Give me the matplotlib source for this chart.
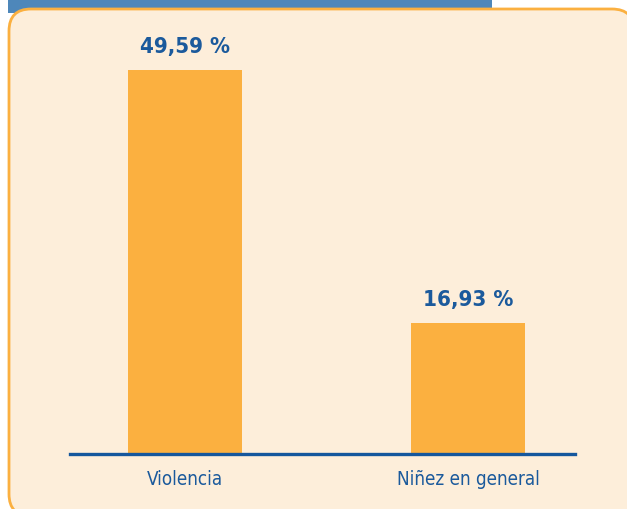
import matplotlib
matplotlib.use('Agg')
import matplotlib.pyplot as plt
from matplotlib.patches import FancyBboxPatch, Rectangle

categories = ['Violencia', 'Niñez en general']
values = [49.59, 16.93]
value_labels = ['49,59 %', '16,93 %']

W, H = 627, 510
cream = '#FDEEDA'
orange = '#FBB040'
blue_txt = '#1B5A9C'
blue_line = '#15579D'
header_blue = '#4E87BA'

plt.rcParams['font.family'] = ['DejaVu Sans']
plt.rcParams['font.stretch'] = 'condensed'

fig = plt.figure(figsize=(W / 100, H / 100), dpi=100)
fig.patch.set_facecolor('white')
inch = fig.dpi_scale_trans  # 1 unit = 100 px

# header strip, cut off at the top
fig.patches.append(Rectangle((0.08, (H - 14) / 100), (492 - 8) / 100, 0.14,
                             transform=inch, facecolor=header_blue,
                             edgecolor='none', zorder=-2))
# rounded cream panel (runs off right and bottom edges)
fig.patches.append(FancyBboxPatch((0.09, -0.07), (634 - 9) / 100, (H - 10 + 7) / 100,
                                  boxstyle='round,pad=0,rounding_size=0.22',
                                  transform=inch, facecolor=cream,
                                  edgecolor=orange, linewidth=2, zorder=-1))

# axes in pixel placement
left, right, bottom, top = 70, 575, 455, 20
ax = fig.add_axes([left / W, (H - bottom) / H, (right - left) / W, (bottom - top) / H])
ax.set_zorder(5)
ax.patch.set_alpha(0)

px = 283.0
ax.set_xlim((left - 185) / px, (right - 185) / px)
ax.set_ylim(0, (bottom - top) / 7.74)

xs = range(len(categories))
ax.bar(xs, values, width=114 / px, color=orange, zorder=2)
for x, v, lab in zip(xs, values, value_labels):
    ax.annotate(lab, (x, v), xytext=(0, 10), textcoords='offset points',
                ha='center', va='bottom', color=blue_txt, fontsize=16,
                fontweight='bold')

ax.axhline(0, color=blue_line, linewidth=2.4, zorder=3, clip_on=False)
for s in ax.spines.values():
    s.set_visible(False)
ax.set_yticks([])
ax.set_xticks(list(xs))
ax.set_xticklabels(categories, color=blue_txt, fontsize=13.5)
ax.tick_params(axis='x', length=0, pad=11)

fig.savefig('out.png', dpi=100, facecolor=fig.get_facecolor())
